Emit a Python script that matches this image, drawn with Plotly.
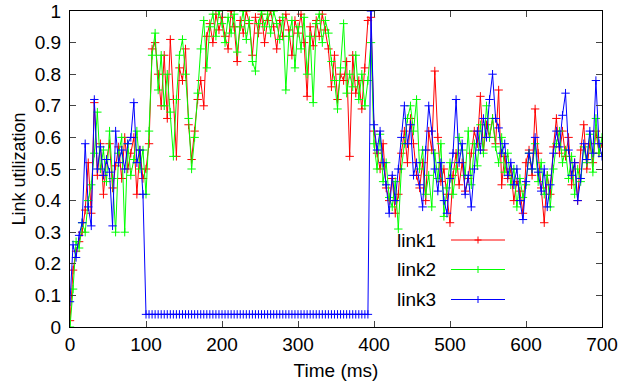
import plotly.graph_objects as go

# Sampling times (ms)
time_ms = list(range(0, 701, 4))

link1 = [
    0.02, 0.18, 0.24, 0.27, 0.30, 0.37, 0.52, 0.36, 0.71, 0.48,
    0.58, 0.42, 0.53, 0.58, 0.44, 0.51, 0.57, 0.47, 0.60, 0.50,
    0.55, 0.60, 0.42, 0.56, 0.47, 0.50, 0.58, 0.88, 0.90, 0.80,
    0.70, 0.86, 0.66, 0.91, 0.72, 0.54, 0.82, 0.78, 0.88, 0.64,
    0.53, 0.62, 0.72, 0.78, 0.70, 0.92, 0.96, 0.90, 0.99, 0.94,
    0.98, 0.92, 0.88, 1.00, 0.95, 0.84, 0.97, 0.93, 1.00, 0.96,
    0.86, 0.98, 0.93, 0.99, 0.90, 0.97, 1.00, 0.95, 0.88, 0.97,
    0.92, 0.99, 0.94, 0.86, 0.97, 0.93, 0.99, 0.90, 0.73, 0.95,
    0.89, 0.97, 0.92, 0.99, 0.94, 0.88, 0.76, 0.86, 0.72, 0.80,
    0.78, 0.84, 0.54, 0.86, 0.74, 0.78, 0.69, 0.82, 0.97, 0.98,
    0.62, 0.55, 0.50, 0.58, 0.44, 0.40, 0.47, 0.36, 0.42, 0.55,
    0.62, 0.52, 0.66, 0.58, 0.48, 0.44, 0.52, 0.40, 0.62, 0.56,
    0.81, 0.60, 0.46, 0.50, 0.42, 0.33, 0.48, 0.55, 0.45, 0.52,
    0.43, 0.47, 0.55, 0.62, 0.58, 0.73, 0.56, 0.64, 0.60, 0.66,
    0.58, 0.75, 0.45, 0.54, 0.47, 0.50, 0.40, 0.46, 0.43, 0.36,
    0.52, 0.56, 0.48, 0.69, 0.55, 0.44, 0.33, 0.48, 0.42, 0.57,
    0.66, 0.55, 0.62, 0.54, 0.60, 0.45, 0.52, 0.40, 0.56, 0.64,
    0.50, 0.58, 0.52, 0.62, 0.55, 0.58,
]

link2 = [
    0.00, 0.12, 0.27, 0.25, 0.33, 0.30, 0.40, 0.45, 0.55, 0.68,
    0.50, 0.56, 0.46, 0.62, 0.47, 0.30, 0.55, 0.60, 0.30, 0.58,
    0.48, 0.53, 0.62, 0.50, 0.56, 0.42, 0.62, 0.86, 0.93, 0.75,
    0.86, 0.70, 0.80, 0.68, 0.54, 0.72, 0.86, 0.91, 0.80, 0.66,
    0.50, 0.60, 0.74, 0.88, 0.97, 0.82, 0.95, 0.99, 0.92, 1.00,
    0.96, 0.90, 0.98, 0.93, 0.99, 0.87, 0.95, 1.00, 0.91, 0.97,
    0.84, 0.81, 0.96, 1.00, 0.95, 0.99, 0.93, 1.00, 0.96, 0.91,
    0.98, 0.75, 0.92, 0.97, 0.82, 0.95, 0.88, 0.98, 0.80, 0.92,
    0.71, 0.96, 0.99, 0.90, 0.97, 0.93, 0.84, 0.78, 0.69, 0.82,
    0.96, 0.74, 0.80, 0.76, 0.86, 0.72, 0.80, 0.70, 0.78, 0.90,
    0.58, 0.50, 0.61, 0.46, 0.52, 0.41, 0.38, 0.46, 0.31, 0.50,
    0.58, 0.66, 0.70, 0.62, 0.72, 0.50, 0.56, 0.42, 0.48, 0.38,
    0.55, 0.47, 0.58, 0.35, 0.44, 0.52, 0.42, 0.50, 0.60, 0.56,
    0.48, 0.62, 0.45, 0.58, 0.51, 0.64, 0.55, 0.70, 0.60, 0.66,
    0.57, 0.52, 0.60, 0.49, 0.55, 0.45, 0.50, 0.38, 0.47, 0.41,
    0.45, 0.55, 0.50, 0.58, 0.46, 0.52, 0.42, 0.48, 0.38, 0.50,
    0.58, 0.62, 0.52, 0.56, 0.47, 0.54, 0.42, 0.50, 0.46, 0.57,
    0.52, 0.61, 0.49, 0.66, 0.55, 0.60,
]

link3 = [
    0.08, 0.26, 0.22, 0.29, 0.33, 0.58, 0.38, 0.32, 0.72, 0.50,
    0.57, 0.48, 0.53, 0.49, 0.32, 0.62, 0.52, 0.56, 0.50, 0.58,
    0.60, 0.71, 0.52, 0.56, 0.42, 0.04, 0.04, 0.04, 0.04, 0.04,
    0.04, 0.04, 0.04, 0.04, 0.04, 0.04, 0.04, 0.04, 0.04, 0.04,
    0.04, 0.04, 0.04, 0.04, 0.04, 0.04, 0.04, 0.04, 0.04, 0.04,
    0.04, 0.04, 0.04, 0.04, 0.04, 0.04, 0.04, 0.04, 0.04, 0.04,
    0.04, 0.04, 0.04, 0.04, 0.04, 0.04, 0.04, 0.04, 0.04, 0.04,
    0.04, 0.04, 0.04, 0.04, 0.04, 0.04, 0.04, 0.04, 0.04, 0.04,
    0.04, 0.04, 0.04, 0.04, 0.04, 0.04, 0.04, 0.04, 0.04, 0.04,
    0.04, 0.04, 0.04, 0.04, 0.04, 0.04, 0.04, 0.04, 0.04, 1.00,
    0.64, 0.56, 0.62, 0.52, 0.45, 0.36, 0.48, 0.40, 0.50, 0.60,
    0.70, 0.58, 0.64, 0.48, 0.52, 0.45, 0.38, 0.56, 0.70, 0.62,
    0.50, 0.43, 0.52, 0.40, 0.36, 0.47, 0.55, 0.72, 0.52, 0.58,
    0.42, 0.48, 0.38, 0.50, 0.62, 0.56, 0.66, 0.60, 0.72, 0.80,
    0.66, 0.63, 0.55, 0.58, 0.48, 0.52, 0.45, 0.50, 0.40, 0.34,
    0.46, 0.55, 0.50, 0.60, 0.49, 0.43, 0.50, 0.38, 0.45, 0.55,
    0.62, 0.57, 0.67, 0.74, 0.56, 0.48, 0.52, 0.40, 0.47, 0.58,
    0.53, 0.62, 0.55, 0.78, 0.58, 0.54,
]

series_names = ["link1", "link2", "link3"]
series_values = [link1, link2, link3]
series_colors = ["#ff0000", "#00ff00", "#0000ff"]

x_ticks = [0, 100, 200, 300, 400, 500, 600, 700]
y_ticks = [0, 0.1, 0.2, 0.3, 0.4, 0.5, 0.6, 0.7, 0.8, 0.9, 1]
y_tick_labels = ["0", "0.1", "0.2", "0.3", "0.4", "0.5", "0.6", "0.7", "0.8", "0.9", "1"]

FONT = "Liberation Sans, Arial, sans-serif"
ML, MR, MT, MB = 70, 20, 11, 60
W, H = 622, 387
PW, PH = W - ML - MR, H - MT - MB

fig = go.Figure()
for name, vals, col in zip(series_names, series_values, series_colors):
    fig.add_trace(go.Scatter(
        x=time_ms, y=vals, name=name, mode="lines+markers",
        line=dict(color=col, width=1),
        marker=dict(symbol="cross-thin", size=6, line=dict(color=col, width=1), color=col),
        showlegend=False,
    ))

# gnuplot-style key: text left of the sample line
shapes = []
annotations = []
key_rows_px = [240, 269.5, 299.5]
for name, col, py in zip(series_names, series_colors, key_rows_px):
    yp = (H - MB - py) / PH
    x0 = (451 - ML) / PW
    x1 = (505 - ML) / PW
    xm = (478 - ML) / PW
    shapes.append(dict(type="line", xref="paper", yref="paper", x0=x0, x1=x1, y0=yp, y1=yp,
                       line=dict(color=col, width=1)))
    shapes.append(dict(type="line", xref="paper", yref="paper", x0=xm - 3.5 / PW, x1=xm + 3.5 / PW,
                       y0=yp, y1=yp, line=dict(color=col, width=1)))
    shapes.append(dict(type="line", xref="paper", yref="paper", x0=xm, x1=xm,
                       y0=yp - 3.5 / PH, y1=yp + 3.5 / PH, line=dict(color=col, width=1)))
    annotations.append(dict(text=name, xref="paper", yref="paper", x=(438 - ML) / PW, y=yp,
                            xanchor="right", yanchor="middle", showarrow=False,
                            font=dict(family=FONT, size=19, color="black")))

fig.update_layout(
    width=W, height=H,
    margin=dict(l=ML, r=MR, t=MT, b=MB),
    paper_bgcolor="white", plot_bgcolor="white",
    font=dict(family=FONT, size=19, color="black"),
    shapes=shapes, annotations=annotations,
    xaxis=dict(range=[0, 700], tickvals=x_ticks, ticks="inside", ticklen=6,
               showline=True, linecolor="black", linewidth=1, mirror="allticks",
               showgrid=False, zeroline=False, automargin=False,
               tickfont=dict(size=19),
               title=dict(text="Time (ms)", standoff=9, font=dict(size=19))),
    yaxis=dict(range=[0, 1], tickvals=y_ticks, ticktext=y_tick_labels, ticks="inside", ticklen=6,
               showline=True, linecolor="black", linewidth=1, mirror="allticks",
               showgrid=False, zeroline=False, ticklabelstandoff=4, automargin=False,
               tickfont=dict(size=19),
               title=dict(text="Link utilization", standoff=4, font=dict(size=18))),
)

fig.write_html("out.html", config={"displayModeBar": False},
               post_script="document.body.style.margin='0';")
